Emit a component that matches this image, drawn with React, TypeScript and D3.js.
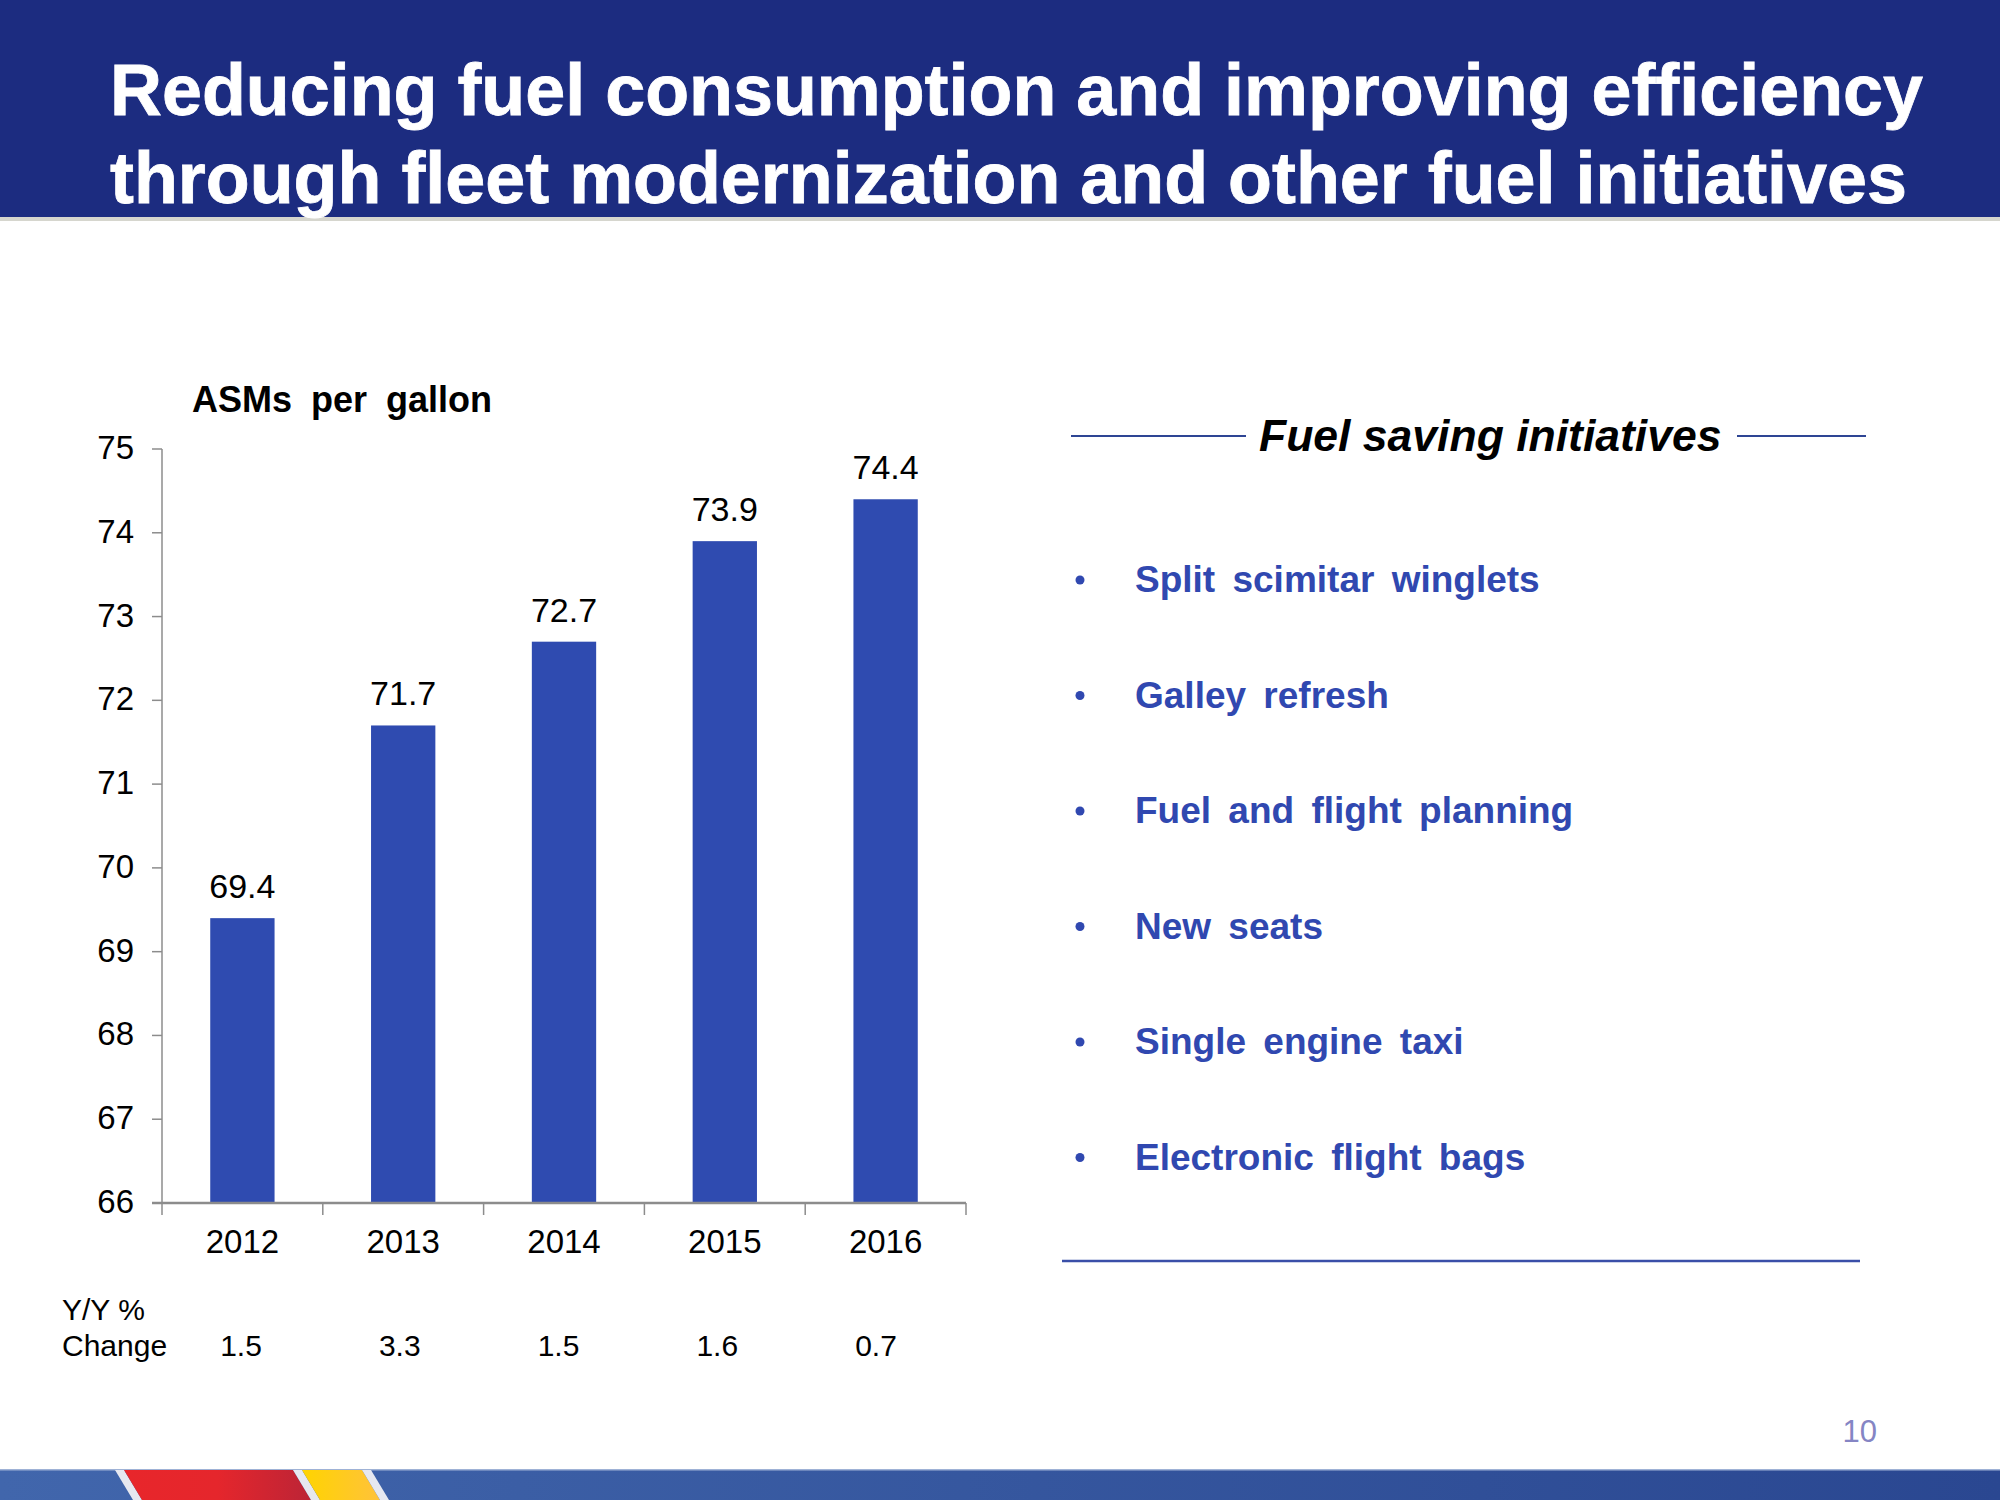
import React from "react";
import * as d3 from "d3";

const years = ["2012", "2013", "2014", "2015", "2016"];
const asmsPerGallon = [69.4, 71.7, 72.7, 73.9, 74.4];
const yoyChange = ["1.5", "3.3", "1.5", "1.6", "0.7"];
const yTicks = [66, 67, 68, 69, 70, 71, 72, 73, 74, 75];
const initiatives = [
  "Split scimitar winglets",
  "Galley refresh",
  "Fuel and flight planning",
  "New seats",
  "Single engine taxi",
  "Electronic flight bags",
];
const titleLines = [
  "Reducing fuel consumption and improving efficiency",
  "through fleet modernization and other fuel initiatives",
];

const FONT = "'Liberation Sans', Arial, Helvetica, sans-serif";
const BAR = "#2F4BB0";
const BULLET_BLUE = "#3048B0";
const AXIS = "#8C8C8C";

export default function App() {
  const x = d3.scaleBand<string>().domain(years).range([162, 966]).paddingInner(0.6).paddingOuter(0.3);
  const y = d3.scaleLinear().domain([66, 75]).range([1203, 449]);
  const changeX = d3.scalePoint<string>().domain(years).range([241, 876]);
  const step = x.step();

  const slant = (x0: number, x1: number) => {
    const d = 18;
    return `M${x0},1470 L${x1},1470 L${x1 + d},1500 L${x0 + d},1500 Z`;
  };

  return (
    <div style={{ position: "absolute", left: 0, top: 0, width: 2000, height: 1500, background: "#fff" }}>
      <svg width={2000} height={1500} style={{ display: "block", fontFamily: FONT }}>
        <defs>
          <linearGradient id="footBlue" x1="0" x2="1" y1="0" y2="0">
            <stop offset="0" stopColor="#4166AC" />
            <stop offset="1" stopColor="#2A4791" />
          </linearGradient>
          <linearGradient id="red" x1="0" x2="1" y1="0" y2="0">
            <stop offset="0" stopColor="#E8262B" />
            <stop offset="0.5" stopColor="#E5262C" />
            <stop offset="1" stopColor="#BC2436" />
          </linearGradient>
          <linearGradient id="yellow" x1="0" x2="1" y1="0" y2="0">
            <stop offset="0" stopColor="#FFD400" />
            <stop offset="1" stopColor="#FFC23A" />
          </linearGradient>
        </defs>
        <rect x={0} y={0} width={2000} height={1500} fill="#fff" />

        {/* Header */}
        <rect x={0} y={0} width={2000} height={217} fill="#1C2C80" />
        <rect x={0} y={217} width={2000} height={4} fill="#D6D6CE" />
        {titleLines.map((t, i) => (
          <text
            key={t}
            x={110}
            y={115 + i * 88}
            fill="#fff"
            stroke="#fff"
            strokeWidth={0.8}
            fontSize={72}
            fontWeight="bold"
            textLength={i === 0 ? 1813 : 1797}
            lengthAdjust="spacingAndGlyphs"
          >
            {t}
          </text>
        ))}

        {/* Chart title */}
        <text x={192} y={412} fontSize={36} fontWeight="bold" fill="#000" style={{ wordSpacing: "9px" }}>
          ASMs per gallon
        </text>

        {/* Y axis */}
        <line x1={162} x2={162} y1={y(75)} y2={y(66)} stroke={AXIS} strokeWidth={1.5} />
        {yTicks.map((t) => (
          <g key={t}>
            <line x1={152} x2={162} y1={y(t)} y2={y(t)} stroke={AXIS} strokeWidth={1.5} />
            <text x={134} y={y(t) + 10} fontSize={33} textAnchor="end" fill="#000">
              {t}
            </text>
          </g>
        ))}

        {/* Bars */}
        {years.map((yr, i) => (
          <g key={yr}>
            <rect
              x={x(yr)!}
              y={y(asmsPerGallon[i])}
              width={x.bandwidth()}
              height={y(66) - y(asmsPerGallon[i])}
              fill={BAR}
            />
            <text
              x={x(yr)! + x.bandwidth() / 2}
              y={y(asmsPerGallon[i]) - 20}
              fontSize={34}
              textAnchor="middle"
              fill="#000"
            >
              {asmsPerGallon[i].toFixed(1)}
            </text>
          </g>
        ))}

        {/* X axis */}
        <line x1={152} x2={966} y1={y(66)} y2={y(66)} stroke={AXIS} strokeWidth={2.5} />
        {[...years.map((yr) => x(yr)! - (step - x.bandwidth()) / 2), 966].map((px, i) => (
          <line key={i} x1={px} x2={px} y1={y(66)} y2={y(66) + 12} stroke={AXIS} strokeWidth={1.5} />
        ))}
        {years.map((yr) => (
          <text key={yr} x={x(yr)! + x.bandwidth() / 2} y={1253} fontSize={33} textAnchor="middle" fill="#000">
            {yr}
          </text>
        ))}

        {/* Y/Y change row */}
        <text x={62} y={1320} fontSize={30} fill="#000">Y/Y %</text>
        <text x={62} y={1356} fontSize={30} fill="#000">Change</text>
        {years.map((yr, i) => (
          <text key={yr} x={changeX(yr)!} y={1356} fontSize={30} textAnchor="middle" fill="#000">
            {yoyChange[i]}
          </text>
        ))}

        {/* Right panel */}
        <line x1={1071} x2={1246} y1={436} y2={436} stroke="#2E4594" strokeWidth={2} />
        <line x1={1737} x2={1866} y1={436} y2={436} stroke="#2E4594" strokeWidth={2} />
        <text x={1259} y={451} fontSize={44.5} fontWeight="bold" fontStyle="italic" fill="#000">
          Fuel saving initiatives
        </text>
        {initiatives.map((item, i) => {
          const base = 592 + i * 115.5;
          return (
            <g key={item}>
              <circle cx={1080} cy={base - 12} r={4.5} fill={BULLET_BLUE} />
              <text x={1135} y={base} fontSize={37} fontWeight="bold" fill={BULLET_BLUE} style={{ wordSpacing: "7px" }}>
                {item}
              </text>
            </g>
          );
        })}
        <line x1={1062} x2={1860} y1={1261} y2={1261} stroke="#3A4FA8" strokeWidth={2.5} />

        {/* Page number */}
        <text x={1877} y={1442} fontSize={31} textAnchor="end" fill="#8585C4">10</text>

        {/* Footer band */}
        <rect x={0} y={1470} width={2000} height={30} fill="url(#footBlue)" />
        <rect x={0} y={1469} width={2000} height={1.5} fill="#9FB2D6" />
        <path d={slant(115, 124)} fill="#E6E8F0" />
        <path d={slant(124, 293)} fill="url(#red)" />
        <path d={slant(293, 302)} fill="#E6E8F0" />
        <path d={slant(302, 362)} fill="url(#yellow)" />
        <path d={slant(362, 371)} fill="#E6E8F0" />
      </svg>
    </div>
  );
}
